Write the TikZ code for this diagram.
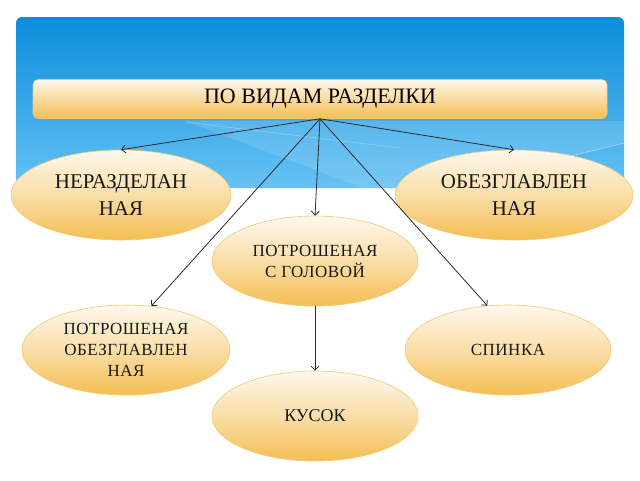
\documentclass[tikz,border=0pt]{standalone}
\usepackage{fontspec}
\setmainfont{Liberation Serif}
\usetikzlibrary{positioning,arrows.meta,shapes.geometric}
\definecolor{skyTop}{HTML}{0B8CDA}
\definecolor{skyBot}{HTML}{66C2F4}
\definecolor{boxTop}{HTML}{FEF8EC}
\definecolor{boxBot}{HTML}{F4BE52}
\definecolor{boxLine}{HTML}{EEC978}
\definecolor{arrGray}{HTML}{2A2A2A}

\begin{document}
\begin{tikzpicture}[x=1pt, y=-1pt,
    kind/.style={ellipse, draw=boxLine, line width=0.6pt, top color=boxTop, bottom color=boxBot, middle color=boxBot!45!boxTop, minimum width=#1, minimum height=90pt, inner sep=0pt, align=center, text=black!90},
    kind/.default={206pt},
    header/.style={rectangle, rounded corners=5pt, draw=boxLine, line width=0.6pt, top color=boxTop, bottom color=boxBot, minimum width=574pt, minimum height=39pt, font=\fontsize{22}{24}\selectfont},
    arr/.style={-{Straight Barb[length=4pt,width=8pt]}, draw=arrGray, line width=0.8pt},
    big/.style={font=\fontsize{21}{27}\selectfont},
    small/.style={font=\fontsize{17}{21}\selectfont\addfontfeatures{LetterSpace=3}},
]
\useasboundingbox (0,0) rectangle (640,480);

% sky panel
\shade[top color=skyTop, bottom color=skyBot] (16,188) [rounded corners=6pt] -- (16,17) -- (624,17) [sharp corners] -- (624,188) -- cycle;
\fill[white, opacity=0.12] (185,121) -- (624,121) -- (624,142) -- (395,200) -- cycle;
\draw[white, opacity=0.45, line width=0.8pt] (395,199) -- (624,143);
\draw[white, opacity=0.3, line width=0.6pt] (185,122) -- (400,148);

\node[header] (title) at (320,99) {ПО ВИДАМ РАЗДЕЛКИ};

\node[kind=220pt, big] (nerazd) at (121,195) {НЕРАЗДЕЛАН\\НАЯ};
\node[kind=238pt, big] (obezgl) at (514,195) {ОБЕЗГЛАВЛЕН\\НАЯ};
\node[kind, small] (potrGol) at (315,261) {ПОТРОШЕНАЯ\\С ГОЛОВОЙ};
\node[kind=208pt, small] (potrObez) at (126,350) {ПОТРОШЕНАЯ\\ОБЕЗГЛАВЛЕН\\НАЯ};
\node[kind, small] (spinka) at (508,350) {СПИНКА};
\node[kind, font=\fontsize{18}{20}\selectfont] (kusok) at (315,416) {КУСОК};

% ===== ARROWS =====
\draw[arr] (title.south) -- (nerazd.north);
\draw[arr] (title.south) -- (obezgl.north);
\draw[arr] (title.south) -- (potrGol.north);
\draw[arr] (title.south) -- (potrObez.60);
\draw[arr] (title.south) -- (spinka.115);
\draw[arr] (potrGol.south) -- (kusok.north);

\end{tikzpicture}
\end{document}
